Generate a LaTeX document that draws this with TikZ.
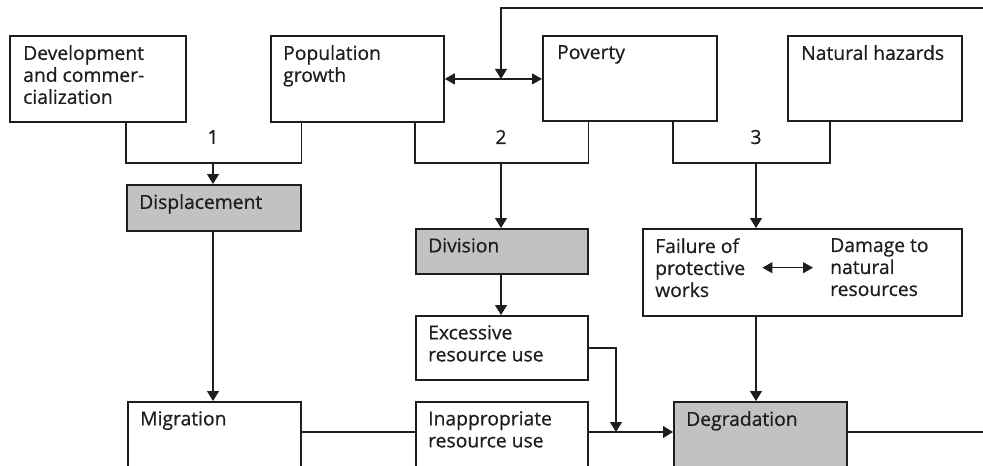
\documentclass[tikz,border=0pt]{standalone}
\usepackage{fontspec}
\setmainfont{Open Sans}[BoldFont={Open Sans},BoldFeatures={FakeBold=0.6}]
\usetikzlibrary{arrows.meta,calc}
\definecolor{ink}{HTML}{1E1E1E}
\definecolor{shade}{HTML}{C2C2C2}
\begin{document}
\begin{tikzpicture}[x=1pt,y=-1pt,
  box/.style={draw=ink,line width=1.8pt,inner sep=0pt,anchor=north west},
  gbox/.style={box,fill=shade},
  txt/.style={anchor=north west,inner sep=0pt,align=left,text=ink,
    font=\fontsize{19.3}{22}\selectfont\bfseries},
  num/.style={inner sep=0pt,text=ink,font=\fontsize{19.3}{22}\selectfont\bfseries},
  conn/.style={draw=ink,line width=1.2pt},
  arr/.style={conn,-{Triangle[length=10pt,width=12pt]}},
  darr/.style={conn,{Triangle[length=10pt,width=11pt]}-{Triangle[length=10pt,width=11pt]}}
]
\clip (0,0) rectangle (983,466);
\fill[white] (0,0) rectangle (983,466);
% boxes
\node[box,minimum width=176pt,minimum height=86pt] (dev) at (9,35) {};
\node[box,minimum width=173pt,minimum height=86pt] (pop) at (270,35) {};
\node[box,minimum width=174pt,minimum height=85pt] (pov) at (542,35) {};
\node[box,minimum width=174pt,minimum height=85pt] (haz) at (787,35) {};
\node[gbox,minimum width=174pt,minimum height=46pt] (disp) at (126,184) {};
\node[gbox,minimum width=172pt,minimum height=45pt] (div) at (415,228) {};
\node[box,minimum width=319pt,minimum height=87pt] (fail) at (642,228) {};
\node[box,minimum width=172pt,minimum height=64pt] (exc) at (415,315) {};
\node[box,minimum width=173pt,minimum height=80pt] (mig) at (127,401) {};
\node[box,minimum width=172pt,minimum height=80pt] (inap) at (415,401) {};
\node[gbox,minimum width=173pt,minimum height=80pt] (deg) at (673,401) {};
% texts
\node[txt] (tdev) at ([shift={(14,10)}]dev.north west) {Development\\and commer-\\cialization};
\node[txt] (tpop) at ([shift={(13,10)}]pop.north west) {Population\\growth};
\node[txt] (tpov) at ([shift={(15,10)}]pov.north west) {Poverty};
\node[txt] (thaz) at ([shift={(14,10)}]haz.north west) {Natural hazards};
\node[txt] (tdisp) at ([shift={(13,10)}]disp.north west) {Displacement};
\node[txt] (tdiv) at ([shift={(13,10)}]div.north west) {Division};
\node[txt] (tfail) at ([shift={(13,10)}]fail.north west) {Failure of\\protective\\works};
\node[txt] (tdam) at ([shift={(188,10)}]fail.north west) {Damage to\\natural\\resources};
\node[txt] (texc) at ([shift={(13,10)}]exc.north west) {Excessive\\resource use};
\node[txt] (tmig) at ([shift={(13,10)}]mig.north west) {Migration};
\node[txt] (tinap) at ([shift={(13,10)}]inap.north west) {Inappropriate\\resource use};
\node[txt] (tdeg) at ([shift={(13,10)}]deg.north west) {Degradation};
% junction coordinates
\coordinate (j1) at (213,163);
\coordinate (j2) at (501,163);
\coordinate (j3) at (756,163);
\coordinate (c3r) at (830,0);
\coordinate (row) at (0,432);
\coordinate (m1) at (616,432);
\coordinate (fbR) at (983,8);
\coordinate (fbR2) at (983,432);
% numbers
\node[num] (n1) at (213,137) {1};
\node[num] (n2) at (501,137) {2};
\node[num] (n3) at (756,137) {3};
% group 1
\draw[conn] (dev.south -| disp.west) |- (j1) -| (pop.south -| disp.east);
\draw[arr] (j1) -- (disp.north -| j1);
% group 2
\draw[conn] (pop.south -| div.west) |- (j2) -| (pov.south -| div.east);
\draw[arr] (j2) -- (div.north -| j2);
% group 3
\draw[conn] (pov.south -| deg.west) |- (j3) -| (haz.south -| c3r);
\draw[arr] (j3) -- (fail.north -| j3);
% top feedback and double arrow
\draw[darr] (pop.east) -- (pov.west |- pop.east);
\draw[arr] (fbR) -| (j2 |- pop.east);
% vertical flows
\draw[arr] (disp.south -| j1) -- (mig.north -| j1);
\draw[arr] (div.south -| j2) -- (exc.north -| j2);
\draw[arr] (fail.south -| j3) -- (deg.north -| j3);
% inside failure box
\draw[darr] ([xshift=17pt]tfail.east) -- ([xshift=-17pt]tdam.west |- tfail.east);
% bottom row
\draw[conn] (mig.east |- row) -- (inap.west |- row);
\draw[arr] (inap.east |- row) -- (deg.west |- row);
\draw[arr] (exc.east) -| (m1);
\draw[conn] (deg.east |- row) -- (fbR2);
\end{tikzpicture}
\end{document}
